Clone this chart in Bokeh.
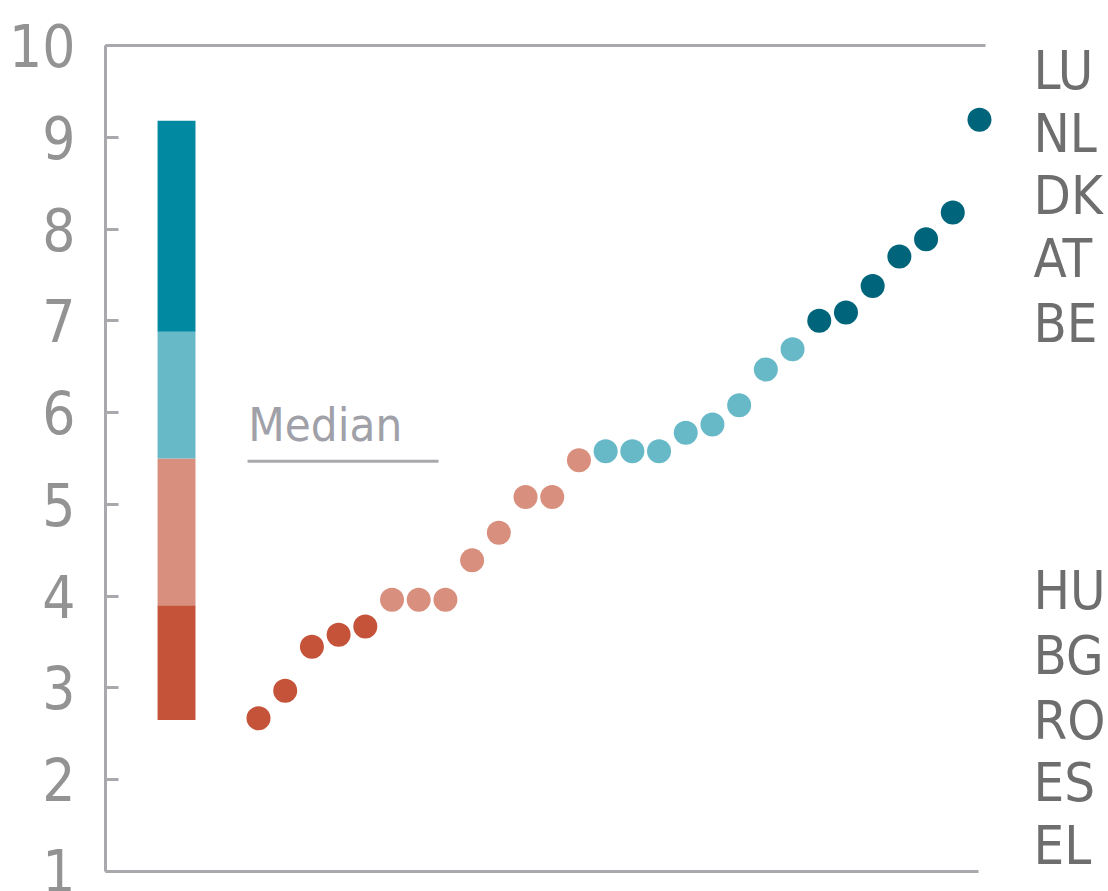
from bokeh.plotting import figure
from bokeh.models import LinearAxis, FixedTicker, Range1d, ColumnDataSource
from bokeh.embed import file_html
from bokeh.resources import INLINE
from bokeh.core.properties import value

# ---- data ----
values = [2.67, 2.97, 3.45, 3.58, 3.67, 3.96, 3.96, 3.96, 4.39, 4.69,
          5.08, 5.08, 5.48, 5.58, 5.58, 5.58, 5.78, 5.87, 6.08, 6.47,
          6.69, 7.00, 7.09, 7.38, 7.70, 7.89, 8.18, 9.19]
groups = [0] * 5 + [1] * 8 + [2] * 8 + [3] * 7
group_colors = ["#c4533a", "#d98f7d", "#68b9c8", "#00647a"]
band_edges = [2.65, 3.90, 5.50, 6.88, 9.18]
band_colors = ["#c4533a", "#d98f7d", "#68b9c8", "#0089a0"]
median_value = 5.47
y_ticks = [1, 2, 3, 4, 5, 6, 7, 8, 9, 10]
top_labels = ["LU", "NL", "DK", "AT", "BE"]
bottom_labels = ["HU", "BG", "RO", "ES", "EL"]

# ---- layout constants ----
FONT = "DejaVu Sans Condensed"
AXIS_GREY = "#a8a8ad"
top_label_pos = [9.73, 9.04, 8.37, 7.68, 6.97]
bottom_label_pos = [4.06, 3.35, 2.65, 1.97, 1.28]
X0, X1 = -4.73, 28.60          # plotting range (frame)
LINE_END_TOP, LINE_END_BOTTOM = 28.22, 27.97
MEDIAN_TEXT_LIFT = 0.40

p = figure(width=1108, height=891,
           x_range=Range1d(X0, X1), y_range=Range1d(1, 10),
           output_backend="svg", toolbar_location=None,
           x_axis_location=None, y_axis_location=None,
           min_border_left=105, min_border_right=113,
           min_border_top=45, min_border_bottom=20)
p.outline_line_color = None
p.xgrid.visible = False
p.ygrid.visible = False
p.background_fill_color = "white"
p.border_fill_color = "white"

left = LinearAxis(ticker=FixedTicker(ticks=y_ticks),
                  axis_line_color=AXIS_GREY, axis_line_width=3,
                  major_tick_line_color=AXIS_GREY, major_tick_line_width=3,
                  major_tick_in=13, major_tick_out=0,
                  minor_tick_line_color=None,
                  major_label_text_font=FONT,
                  major_label_text_font_size="58px",
                  major_label_text_color="#939393",
                  major_label_standoff=30)
p.add_layout(left, "left")

for loc, end in (("above", LINE_END_TOP), ("below", LINE_END_BOTTOM)):
    ax = LinearAxis(ticker=FixedTicker(ticks=[]), bounds=(X0, end),
                    axis_line_color=AXIS_GREY, axis_line_width=3,
                    major_tick_line_color=None, minor_tick_line_color=None,
                    major_label_text_font_size="0px")
    p.add_layout(ax, loc)

# country labels at the right (as a label-only axis)
label_pos = top_label_pos + bottom_label_pos
label_names = top_labels + bottom_labels
right = LinearAxis(ticker=FixedTicker(ticks=label_pos),
                   major_label_overrides={pos: name for pos, name in zip(label_pos, label_names)},
                   axis_line_color=None, major_tick_line_color=None,
                   minor_tick_line_color=None, major_tick_out=0, major_tick_in=0,
                   major_label_text_font=FONT,
                   major_label_text_font_size="54px",
                   major_label_text_color="#6e6e6e",
                   major_label_standoff=38)
p.add_layout(right, "right")

# stacked band bar
p.vbar(x=-2.07, width=1.42, bottom=band_edges[:-1], top=band_edges[1:],
       fill_color=band_colors, line_color=None)

# median legend
p.segment(x0=0.59, y0=median_value, x1=7.74, y1=median_value,
          line_color=AXIS_GREY, line_width=3)
p.text(x=[0.62], y=[median_value + MEDIAN_TEXT_LIFT], text=["Median"],
       text_font=value(FONT), text_font_size="47px",
       text_color="#a0a1a8", text_baseline="alphabetic", text_align="left")

# dots
src = ColumnDataSource(dict(
    x=list(range(1, len(values) + 1)),
    y=values,
    c=[group_colors[g] for g in groups],
))
p.scatter(x="x", y="y", size=24, fill_color="c", line_color=None, source=src)

open("out.html", "w").write(file_html(p, INLINE))
